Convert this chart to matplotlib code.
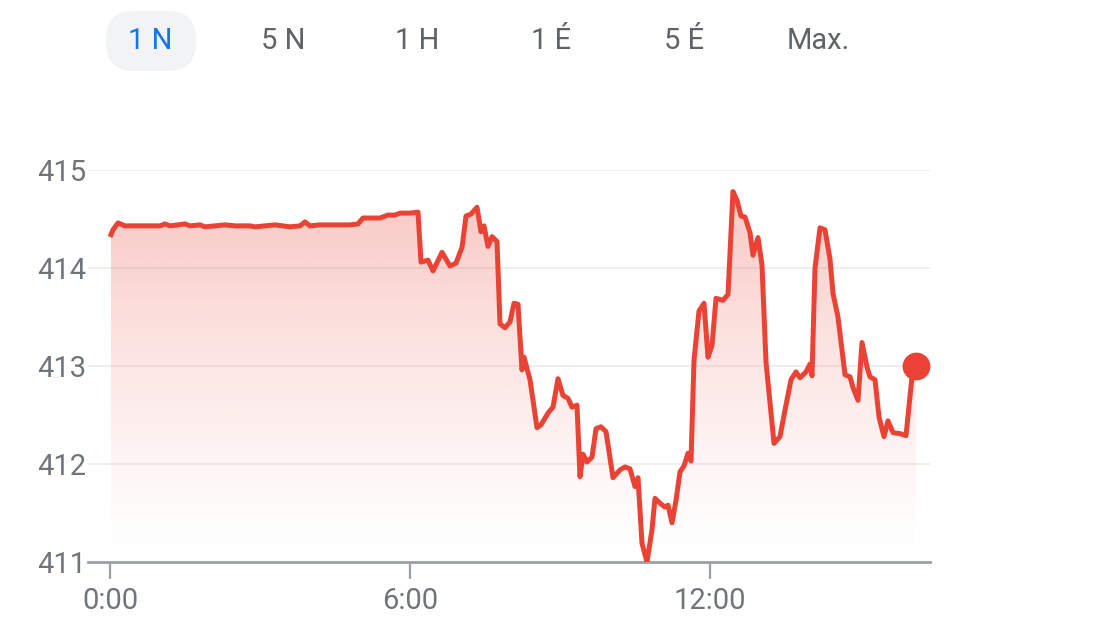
import numpy as np
import matplotlib
matplotlib.use("Agg")
from matplotlib import pyplot as plt
from matplotlib.patches import FancyBboxPatch

plt.rcParams['font.family'] = ['Roboto', 'DejaVu Sans']

# hours since 0:00 and price
hours = [0.02, 0.06, 0.16, 0.30, 1.00, 1.10, 1.20, 1.36, 1.50, 1.60, 1.80, 1.90,
         2.10, 2.30, 2.50, 2.80, 2.90, 3.10, 3.30, 3.46, 3.60, 3.80, 3.90, 4.00,
         4.20, 4.50, 4.80, 4.96, 5.06, 5.24, 5.40, 5.56, 5.70, 5.80, 6.00, 6.16,
         6.22, 6.36, 6.46, 6.64, 6.80, 6.92, 7.04, 7.12, 7.22, 7.34, 7.42, 7.48,
         7.56, 7.64, 7.74, 7.80, 7.90, 8.00, 8.08, 8.16, 8.24, 8.28, 8.40, 8.54,
         8.62, 8.76, 8.86, 8.96, 9.06, 9.16, 9.24, 9.34, 9.40, 9.46, 9.54, 9.64,
         9.72, 9.82, 9.92, 10.06, 10.20, 10.30, 10.40, 10.50, 10.56, 10.64, 10.74,
         10.84, 10.90, 11.00, 11.10, 11.16, 11.24, 11.32, 11.40, 11.48, 11.56,
         11.62, 11.68, 11.78, 11.88, 11.96, 12.04, 12.12, 12.26, 12.36, 12.46,
         12.54, 12.62, 12.70, 12.80, 12.86, 12.96, 13.04, 13.12, 13.28, 13.40,
         13.50, 13.62, 13.72, 13.80, 13.92, 14.00, 14.04, 14.10, 14.20, 14.30,
         14.40, 14.46, 14.56, 14.70, 14.80, 14.86, 14.96, 15.04, 15.14, 15.20,
         15.30, 15.38, 15.48, 15.56, 15.66, 15.80, 15.92, 16.04, 16.12]
price = [414.34, 414.39, 414.46, 414.43, 414.43, 414.45, 414.43, 414.44, 414.45,
         414.43, 414.44, 414.42, 414.43, 414.44, 414.43, 414.43, 414.42, 414.43,
         414.44, 414.43, 414.42, 414.43, 414.47, 414.43, 414.44, 414.44, 414.44,
         414.45, 414.51, 414.51, 414.51, 414.54, 414.54, 414.56, 414.56, 414.57,
         414.06, 414.08, 413.97, 414.16, 414.02, 414.05, 414.21, 414.53, 414.55,
         414.62, 414.37, 414.43, 414.22, 414.32, 414.27, 413.43, 413.39, 413.45,
         413.64, 413.63, 412.96, 413.09, 412.86, 412.37, 412.40, 412.52, 412.58,
         412.87, 412.70, 412.67, 412.58, 412.60, 411.87, 412.10, 412.02, 412.07,
         412.36, 412.38, 412.33, 411.86, 411.94, 411.97, 411.95, 411.77, 411.86,
         411.19, 411.00, 411.33, 411.65, 411.60, 411.56, 411.58, 411.40, 411.63,
         411.92, 411.98, 412.11, 412.03, 413.06, 413.56, 413.64, 413.09, 413.21,
         413.69, 413.67, 413.73, 414.78, 414.69, 414.53, 414.52, 414.36, 414.13,
         414.31, 414.03, 413.04, 412.21, 412.28, 412.55, 412.86, 412.94, 412.88,
         412.94, 413.02, 412.90, 414.00, 414.41, 414.39, 414.09, 413.74, 413.50,
         412.91, 412.89, 412.78, 412.65, 413.24, 412.99, 412.89, 412.86, 412.48,
         412.28, 412.44, 412.32, 412.31, 412.29, 412.89, 413.00]

y_ticks = [411, 412, 413, 414, 415]
x_ticks = [0, 6, 12]
x_labels = ['0:00', '6:00', '12:00']
tabs = ['1 N', '5 N', '1 H', '1 É', '5 É', 'Max.']

red = '#ea4335'
grey_txt = '#70757a'

fig = plt.figure(figsize=(11.1, 6.24), dpi=100)

# overlay in pixel units for the tab bar
top = fig.add_axes([0, 0, 1, 1])
top.set_xlim(0, 1110)
top.set_ylim(624, 0)
top.axis('off')
top.add_patch(FancyBboxPatch((106, 11), 90, 60,
                             boxstyle='round,pad=0,rounding_size=28',
                             facecolor='#f1f3f4', edgecolor='none'))
tab_x = [150, 283, 417, 551, 684, 818]
for i, (t, xp) in enumerate(zip(tabs, tab_x)):
    top.text(xp, 41, t, ha='center', va='center', fontsize=21,
             color='#1a73e8' if i == 0 else '#5f6368')

ax = fig.add_axes([88 / 1110, 1 - 562 / 624, (930 - 88) / 1110, (562 - 170) / 624])
ax.set_xlim(-0.44, 16.4)
ax.set_ylim(411, 415)
ax.patch.set_alpha(0)

# gradient fill under the line
grad = np.zeros((256, 1, 4))
grad[:, 0, 0] = 234 / 255
grad[:, 0, 1] = 67 / 255
grad[:, 0, 2] = 53 / 255
grad[:, 0, 3] = np.linspace(0.0, 0.32, 256) ** 1.3 / 0.32 ** 0.3
img = ax.imshow(grad, aspect='auto', extent=[hours[0], hours[-1], 411, 415],
                origin='lower', zorder=1)
poly = ax.fill_between(hours, price, 411, color='none', lw=0)
img.set_clip_path(poly.get_paths()[0], transform=ax.transData)

for v in y_ticks[1:]:
    ax.axhline(v, color='#eeeeee', lw=1.3, zorder=0)

ax.plot(hours, price, color=red, lw=3.6, zorder=3)
ax.plot(hours[-1], price[-1], 'o', color=red, ms=19, zorder=4, clip_on=False)

for s in ['top', 'right', 'left']:
    ax.spines[s].set_visible(False)
ax.spines['bottom'].set_color('#9aa0a6')
ax.spines['bottom'].set_linewidth(2)

ax.set_yticks(y_ticks)
ax.set_yticklabels([str(v) for v in y_ticks])
ax.tick_params(axis='y', length=0, pad=1, labelsize=21, labelcolor=grey_txt)
ax.set_xticks(x_ticks)
ax.set_xticklabels(x_labels)
ax.tick_params(axis='x', length=12, width=1.6, color='#9aa0a6', pad=6,
               labelsize=21, labelcolor=grey_txt)

fig.savefig('out.png', dpi=100)
